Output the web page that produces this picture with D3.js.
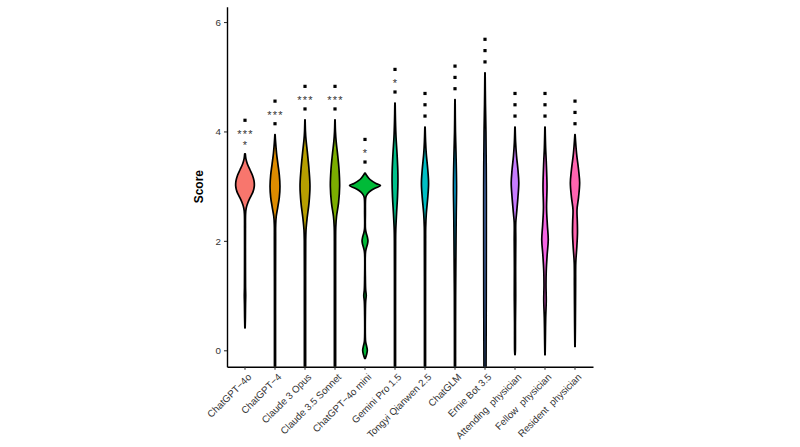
<!DOCTYPE html>
<html>
<head>
<meta charset="utf-8">
<script src="https://cdn.jsdelivr.net/npm/d3@7"></script>
<style>
  html, body { margin: 0; padding: 0; background: #fff; }
  svg { display: block; }
</style>
</head>
<body>
<svg id="chart" width="800" height="447"></svg>
<script>
// ---------------- DATA ----------------
const categories = [
  "ChatGPT\u22124o", "ChatGPT\u22124", "Claude 3 Opus", "Claude 3.5 Sonnet",
  "ChatGPT\u22124o mini", "Gemini Pro 1.5", "Tongyi Qianwen 2.5", "ChatGLM",
  "Ernie Bot 3.5", "Attending  physician", "Fellow  physician", "Resident  physician"
];

const palette = ["#F8766D", "#DE8C00", "#B79F00", "#7CAE00", "#00BA38", "#00C08B",
                 "#00BFC4", "#00B4F0", "#619CFF", "#C77CFF", "#F564E3", "#FF64B0"];

const yTicks = [0, 2, 4, 6];
const yDomain = [-0.3, 6.28];

// Violin density profiles: [score, relative density]
const densChatGPT4o = [[3.59,0.02],[3.5,0.06],[3.4,0.16],[3.3,0.32],[3.2,0.48],[3.1,0.58],[3.0,0.60],[2.9,0.52],[2.8,0.35],[2.7,0.19],[2.6,0.08],[2.5,0.04],[2.2,0.03],[1.6,0.03],[1.15,0.035],[1.0,0.045],[0.85,0.035],[0.6,0.025],[0.41,0.01]];
const densChatGPT4 = [[3.94,0.01],[3.8,0.04],[3.6,0.1],[3.4,0.19],[3.2,0.28],[3.0,0.32],[2.8,0.28],[2.6,0.17],[2.45,0.08],[2.3,0.045],[2.0,0.04],[1.0,0.035],[0.0,0.035],[-0.4,0.035]];
const densOpus = [[4.21,0.01],[4.0,0.03],[3.85,0.065],[3.6,0.16],[3.3,0.26],[3.0,0.32],[2.7,0.26],[2.4,0.13],[2.2,0.065],[2.0,0.045],[1.0,0.04],[0,0.04],[-0.4,0.04]];
const densSonnet = [[4.21,0.01],[4.0,0.03],[3.8,0.08],[3.6,0.16],[3.3,0.26],[3.0,0.30],[2.7,0.23],[2.45,0.1],[2.25,0.05],[2.0,0.04],[1.0,0.04],[0,0.04],[-0.4,0.04]];
const densMini = [[3.24,0.02],[3.2,0.1],[3.15,0.23],[3.1,0.42],[3.05,0.71],[3.01,1.0],[2.97,0.71],[2.92,0.39],[2.87,0.19],[2.82,0.08],[2.77,0.04],[2.5,0.026],[2.22,0.03],[2.14,0.08],[2.06,0.16],[2.0,0.19],[1.94,0.16],[1.86,0.08],[1.78,0.03],[1.3,0.026],[1.1,0.045],[1.0,0.08],[0.9,0.045],[0.7,0.026],[0.16,0.04],[0.08,0.1],[0.0,0.15],[-0.08,0.1],[-0.15,0.02]];
const densGemini = [[4.52,0.01],[4.2,0.03],[3.9,0.065],[3.6,0.13],[3.3,0.18],[3.1,0.19],[2.8,0.16],[2.5,0.1],[2.2,0.05],[2.0,0.04],[1.0,0.035],[0,0.035],[-0.4,0.035]];
const densTongyi = [[4.08,0.01],[3.8,0.04],[3.6,0.08],[3.3,0.18],[3.05,0.23],[2.8,0.18],[2.5,0.085],[2.25,0.045],[2.0,0.04],[1.0,0.035],[0,0.035],[-0.4,0.035]];
const densGLM = [[4.58,0.01],[4.0,0.03],[3.6,0.065],[3.0,0.1],[2.5,0.08],[2.0,0.065],[1.4,0.05],[1.0,0.04],[0,0.035],[-0.4,0.035]];
const densErnie = [[5.07,0.01],[4.5,0.03],[4.0,0.06],[3.0,0.085],[2.0,0.085],[1.0,0.08],[0,0.07],[-0.4,0.065]];
const densAttending = [[4.08,0.01],[3.8,0.04],[3.55,0.1],[3.3,0.19],[3.06,0.245],[2.8,0.19],[2.5,0.1],[2.33,0.05],[2.0,0.05],[1.5,0.04],[1.0,0.045],[0.5,0.03],[0.0,0.025],[-0.08,0.01]];
const densFellow = [[4.08,0.01],[3.7,0.04],[3.45,0.08],[3.0,0.13],[2.6,0.1],[2.3,0.15],[2.02,0.21],[1.75,0.14],[1.45,0.08],[1.2,0.065],[0.9,0.08],[0.6,0.045],[0.2,0.025],[-0.08,0.01]];
const densResident = [[3.94,0.01],[3.6,0.1],[3.3,0.23],[3.06,0.3],[2.8,0.23],[2.57,0.13],[2.35,0.15],[2.15,0.16],[1.9,0.12],[1.6,0.05],[1.2,0.04],[0.5,0.026],[0.07,0.01]];

const profiles = [densChatGPT4o, densChatGPT4, densOpus, densSonnet, densMini, densGemini,
                  densTongyi, densGLM, densErnie, densAttending, densFellow, densResident];

// Significance annotations above each violin (top, middle, bottom); "▪" = square marker
const annotTop    = ["▪","▪","▪","▪","▪","▪","▪","▪","▪","▪","▪","▪"];
const annotMiddle = ["***","***","***","***","*","*","▪","▪","▪","▪","▪","▪"];
const annotBottom = ["*","▪","▪","▪","▪","▪","▪","▪","▪","▪","▪","▪"];

// ---------------- CHART ----------------
const svg = d3.select("#chart");
const panel = { left: 227, right: 593, top: 6.7, bottom: 366.7 };
const font = "'Liberation Sans', Arial, Helvetica, sans-serif";

const x = d3.scaleBand().domain(categories).range([panel.left, panel.right])
  .paddingInner(0).paddingOuter(0.1);
const y = d3.scaleLinear().domain(yDomain).range([panel.bottom, panel.top]);
const w = d3.scaleLinear().domain([0, 1]).range([0, 15.5]);

svg.append("defs").append("clipPath").attr("id", "panelClip")
  .append("rect")
  .attr("x", panel.left).attr("y", panel.top)
  .attr("width", panel.right - panel.left).attr("height", panel.bottom - panel.top);

const gV = svg.append("g").attr("clip-path", "url(#panelClip)");

categories.forEach((cat, i) => {
  const cx = x(cat) + x.bandwidth() / 2;
  const area = d3.area()
    .y(d => y(d[0]))
    .x0(d => cx - w(d[1]))
    .x1(d => cx + w(d[1]))
    .curve(d3.curveCatmullRom.alpha(0.5));
  gV.append("path")
    .attr("d", area(profiles[i]))
    .attr("fill", palette[i])
    .attr("stroke", "#000")
    .attr("stroke-width", 1.7)
    .attr("stroke-linejoin", "round");
});

// Annotations
const gA = svg.append("g");
categories.forEach((cat, i) => {
  const cx = x(cat) + x.bandwidth() / 2;
  const topY = y(d3.max(profiles[i], d => d[0]));
  const rows = [annotBottom[i], annotMiddle[i], annotTop[i]];
  rows.forEach((lab, r) => {
    const cy = topY - 11 - r * 11.3;
    if (lab === "▪") {
      gA.append("rect")
        .attr("x", cx - 1.6).attr("y", cy - 1.6)
        .attr("width", 3.2).attr("height", 3.2)
        .attr("fill", "#000");
    } else {
      gA.append("text")
        .attr("x", cx + 0.6).attr("y", cy + 6.3)
        .attr("text-anchor", "middle")
        .attr("font-family", font)
        .attr("font-size", 11)
        .attr("letter-spacing", 1.2)
        .attr("fill", "#333")
        .text(lab);
    }
  });
});

// Axes
const yAxis = d3.axisLeft(y).tickValues(yTicks).tickFormat(d3.format("d"))
  .tickSize(3).tickSizeOuter(0).tickPadding(3);
const gy = svg.append("g").attr("transform", `translate(${panel.left},0)`).call(yAxis);
gy.select(".domain").attr("stroke", "#000").attr("stroke-width", 1.4);
gy.selectAll(".tick line").attr("stroke", "#333").attr("stroke-width", 1.1);
gy.selectAll(".tick text").attr("font-family", font).attr("font-size", 9.8).attr("fill", "#333");

const xAxis = d3.axisBottom(x).tickSize(3).tickSizeOuter(0);
const gx = svg.append("g").attr("transform", `translate(0,${panel.bottom})`).call(xAxis);
gx.select(".domain").attr("stroke", "#000").attr("stroke-width", 1.4);
gx.selectAll(".tick line").attr("stroke", "#333").attr("stroke-width", 1.1);
gx.selectAll(".tick text")
  .attr("font-family", font).attr("font-size", 9.8).attr("fill", "#333")
  .attr("text-anchor", "end")
  .attr("x", null).attr("y", null)
  .attr("transform", "translate(2,6) rotate(-45)")
  .attr("dy", "0.72em")
  .attr("xml:space", "preserve")
  .style("white-space", "pre");

// Y axis title
svg.append("text")
  .attr("transform", `translate(203,${(panel.top + panel.bottom) / 2}) rotate(-90)`)
  .attr("text-anchor", "middle")
  .attr("font-family", font)
  .attr("font-size", 12)
  .attr("font-weight", "bold")
  .attr("fill", "#000")
  .text("Score");
</script>
</body>
</html>
